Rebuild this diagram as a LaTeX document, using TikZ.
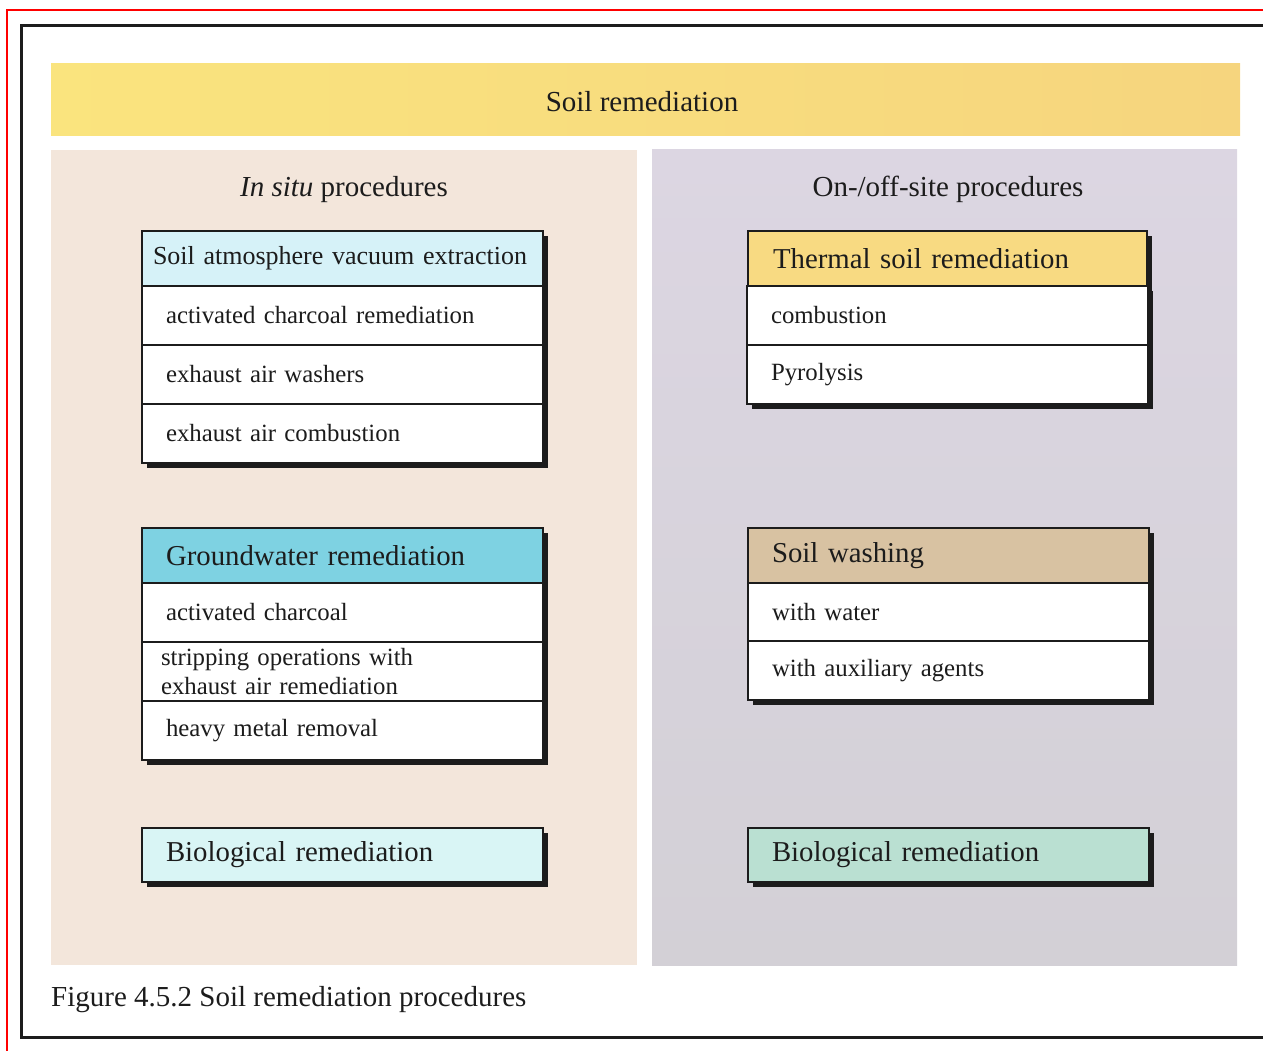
\documentclass[tikz,border=0pt]{standalone}
\usepackage{fontspec}
\setmainfont{Liberation Serif}
\usetikzlibrary{positioning,shadows}
\definecolor{ink}{HTML}{1C1C1C}
\definecolor{bandyellow}{HTML}{FAE47E}
\definecolor{bandorange}{HTML}{F6D57E}
\definecolor{leftpanel}{HTML}{F3E6DB}
\definecolor{rightpaneltop}{HTML}{DCD6E2}
\definecolor{rightpanelbot}{HTML}{D3D0D6}
\definecolor{vachead}{HTML}{D6F2F8}
\definecolor{gwhead}{HTML}{7ED2E2}
\definecolor{thermhead}{HTML}{F8DA82}
\definecolor{washhead}{HTML}{D8C2A2}
\definecolor{bioleft}{HTML}{D9F5F5}
\definecolor{bioright}{HTML}{BAE0D2}
\begin{document}
\begin{tikzpicture}[x=1pt,y=-1pt,
	row/.style={rectangle, draw=ink, line width=1.2pt, fill=white, outer sep=0pt,
		text width=353pt, inner xsep=24pt, inner ysep=0pt, minimum height=59pt, align=left,
		text=ink, font=\fontsize{24.8}{29}\selectfont,
		drop shadow={shadow xshift=5pt, shadow yshift=-5pt, fill=ink, opacity=1}},
	head/.style={row, minimum height=55pt, font=\fontsize{28.8}{33}\selectfont},
	title/.style={text=ink, inner sep=0pt, font=\fontsize{29}{34}\selectfont}]
			\useasboundingbox (0,0) rectangle (1263,1051);
			\clip (0,0) rectangle (1263,1051);
			%Frame
			\draw[red, line width=2.2pt] (7,10) rectangle (1280,1070);
			\draw[ink, line width=3pt] (21,26) rectangle (1280,1037);
			%Panels
			\shade[left color=bandyellow, right color=bandorange] (51,64) rectangle (1240,136);
			\fill[leftpanel] (51,150) rectangle (637,965);
			\shade[top color=rightpaneltop, bottom color=rightpanelbot] (652,150) rectangle (1237,965);
			%Titles
			\node[title] (soil) at (642,102) {Soil remediation};
			\node[title] (insitu) at (344,190) {\textit{In situ} procedures};
			\node[title] (onoff) at (948,189) {On-/off-site procedures};
			%In situ
			\node[head, fill=vachead, text width=389pt, inner xsep=6pt, font=\fontsize{26}{31}\selectfont,
				anchor=north west] (vac) at (142,231) {\hspace*{5pt}\mbox{Soil atmosphere vacuum extraction}};
			\node[row, below=0pt of vac] (vac1) {activated charcoal remediation};
			\node[row, below=0pt of vac1] (vac2) {exhaust air washers};
			\node[row, below=0pt of vac2] (vac3) {exhaust air combustion};
			\node[head, fill=gwhead, anchor=north west] (gw) at (142,528) {Groundwater remediation};
			\node[row, below=0pt of gw] (gw1) {activated charcoal};
			\node[row, below=0pt of gw1, inner xsep=19pt, text width=363pt] (gw2) {stripping operations with\\exhaust air remediation};
			\node[row, below=0pt of gw2] (gw3) {heavy metal removal};
			\node[head, fill=bioleft, minimum height=54pt, anchor=north west] (bioin) at (142,828) {Biological remediation};
			%On-/off-site
			\node[head, fill=thermhead, anchor=north west, inner xsep=25pt, text width=349pt] (therm) at (748,231) {Thermal soil remediation};
			\node[row, below=0pt of therm] (therm1) {combustion};
			\node[row, below=0pt of therm1] (therm2) {Pyrolysis};
			\node[head, fill=washhead, anchor=north west] (wash) at (748,528) {Soil washing};
			\node[row, below=0pt of wash, minimum height=58pt] (wash1) {with water};
			\node[row, below=0pt of wash1, minimum height=59pt] (wash2) {with auxiliary agents};
			\node[head, fill=bioright, minimum height=54pt, anchor=north west] (bioon) at (748,828) {Biological remediation};
			%Caption
			\node[title, anchor=west] (caption) at (51,1000) {Figure 4.5.2 Soil remediation procedures};
			\end{tikzpicture}
\end{document}
